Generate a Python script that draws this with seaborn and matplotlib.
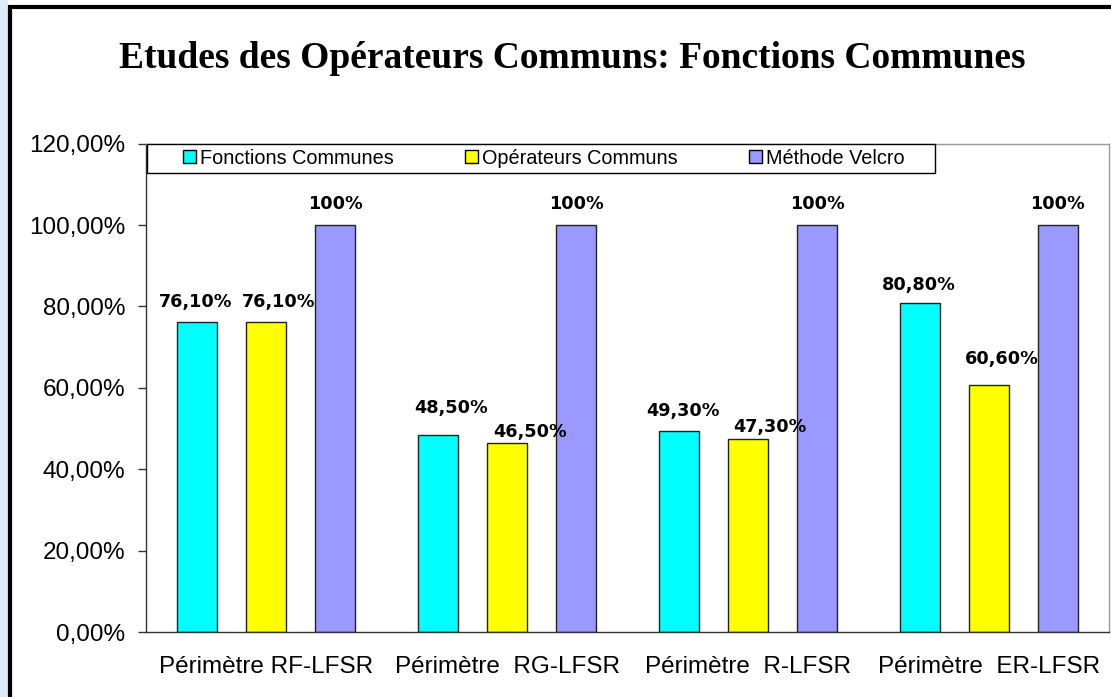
import matplotlib
matplotlib.use("Agg")
import matplotlib.pyplot as plt
from matplotlib.patches import Patch, Rectangle
from matplotlib.ticker import FuncFormatter, FixedLocator
import pandas as pd
import seaborn as sns

# Data
perimetres = ["Périmètre RF-LFSR", "Périmètre  RG-LFSR", "Périmètre  R-LFSR", "Périmètre  ER-LFSR"]
series = ["Fonctions Communes", "Opérateurs Communs", "Méthode Velcro"]
fonctions_communes = [76.1, 48.5, 49.3, 80.8]
operateurs_communs = [76.1, 46.5, 47.3, 60.6]
methode_velcro = [100, 100, 100, 100]
value_labels = [
    ["76,10%", "48,50%", "49,30%", "80,80%"],
    ["76,10%", "46,50%", "47,30%", "60,60%"],
    ["100%", "100%", "100%", "100%"],
]
colors = ["#00FFFF", "#FFFF00", "#9999FF"]

df = pd.DataFrame({
    "perimetre": perimetres * 3,
    "serie": [s for s in series for _ in perimetres],
    "valeur": fonctions_communes + operateurs_communs + methode_velcro,
})

sns.set_style("white")
plt.rcParams["font.family"] = ["Liberation Sans", "DejaVu Sans"]
plt.rcParams["text.color"] = "black"

fig = plt.figure(figsize=(11.11, 6.97), dpi=100)
ax = fig.add_axes([146 / 1111, 1 - 632 / 697, (1109 - 146) / 1111, (632 - 143.6) / 697])

sns.barplot(data=df, x="perimetre", y="valeur", hue="serie", order=perimetres,
            hue_order=series, palette=colors, width=0.86, saturation=1,
            edgecolor="#222222", linewidth=1.0, legend=False, ax=ax)

# narrow the bars, keeping their centres
bar_w = 0.166
for cont in ax.containers:
    for p in cont.patches:
        cx = p.get_x() + p.get_width() / 2
        p.set_width(bar_w)
        p.set_x(cx - bar_w / 2)

# value labels (offsets in pixels: dx, height above bar top)
label_offsets = [
    [(-2, 20), (13, 27), (4, 20), (-1, 18)],
    [(12, 20), (23, 11), (22, 12), (13, 26)],
    [(0, 21), (0, 21), (0, 21), (0, 21)],
]
for si, cont in enumerate(ax.containers):
    for bi, p in enumerate(cont.patches):
        dx, dy = label_offsets[si][bi]
        ax.annotate(value_labels[si][bi],
                    xy=(p.get_x() + p.get_width() / 2, p.get_height()),
                    xytext=(dx * 0.72, dy * 0.72), textcoords="offset points",
                    ha="center", va="center", fontsize=12.7, fontweight="bold",
                    family="DejaVu Sans", color="black")

ax.set_xlim(-0.5, 3.5)
ax.set_ylim(0, 120)
ax.set_yticks(range(0, 121, 20))
ax.yaxis.set_major_formatter(FuncFormatter(lambda v, _: f"{v:.2f}%".replace(".", ",")))
ax.xaxis.set_minor_locator(FixedLocator([-0.5, 0.5, 1.5, 2.5, 3.5]))
ax.tick_params(axis="x", which="major", length=0, pad=17.5, labelsize=17.5, labelcolor="black")
ax.tick_params(axis="x", which="minor", length=6, width=1, color="#333333", direction="out")
ax.tick_params(axis="y", which="major", length=6, width=1, color="#333333", direction="out",
               left=True, pad=9, labelsize=17.5, labelcolor="black")
ax.set_xlabel("")
ax.set_ylabel("")

for side in ["left", "bottom"]:
    ax.spines[side].set_color("#333333")
    ax.spines[side].set_linewidth(1.0)
for side in ["top", "right"]:
    ax.spines[side].set_color("#999999")
    ax.spines[side].set_linewidth(1.0)

# legend: entries without frame, plus a separate box along the top of the plot
handles = [Patch(facecolor=c, edgecolor="black", linewidth=1) for c in colors]
ax_h = 632 - 143.6
leg = ax.legend(handles, series, ncol=3, loc="center left",
                bbox_to_anchor=((183 - 146) / 963, (632 - 158) / ax_h),
                borderaxespad=0, borderpad=0, frameon=False, fontsize=14.3,
                handlelength=0.65, handleheight=0.65, handletextpad=0.2,
                columnspacing=3.6)
for t in leg.get_texts():
    t.set_color("black")
ax.add_patch(Rectangle(((147 - 146) / 963, (632 - 173) / ax_h), (935 - 147) / 963,
                       (173 - 143.6) / ax_h, transform=ax.transAxes,
                       facecolor="white", edgecolor="black", linewidth=1.0,
                       zorder=4, clip_on=False))
leg.set_zorder(5)

fig.text(572 / 1111, 1 - 58 / 697, "Etudes des Opérateurs Communs: Fonctions Communes",
         ha="center", va="center", fontsize=27, fontweight="bold",
         family="Liberation Serif", color="black")

# page background strip and chart frame
fig.patches.append(Rectangle((0, 0), 8 / 1111, 1, transform=fig.transFigure,
                             facecolor="#dcedf7", edgecolor="none", zorder=0))
fig.patches.append(Rectangle((10 / 1111, -0.05), 1.1, 1.05 - 7 / 697,
                             transform=fig.transFigure, facecolor="none",
                             edgecolor="black", linewidth=3, zorder=5))

fig.savefig("out.png", dpi=100)
